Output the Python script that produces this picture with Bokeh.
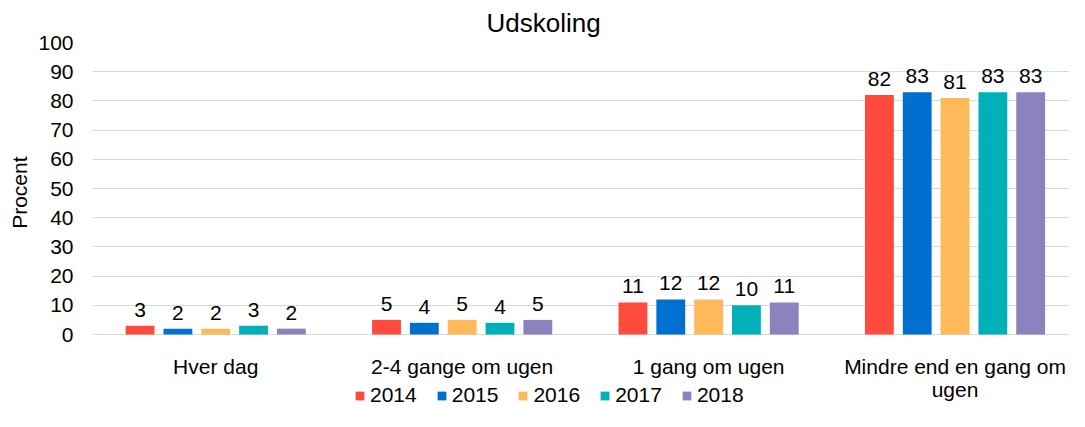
from bokeh.plotting import figure
from bokeh.models import Legend, LegendItem, ColumnDataSource, Range1d, FixedTicker, Title
from bokeh.transform import dodge
from bokeh.core.properties import value
from bokeh.embed import file_html
from bokeh.resources import INLINE

categories = ["Hver dag", "2-4 gange om ugen", "1 gang om ugen", "Mindre end en gang om ugen"]
label_line1 = ["Hver dag", "2-4 gange om ugen", "1 gang om ugen", "Mindre end en gang om"]
label_line2 = ["", "", "", "ugen"]
years = ["2014", "2015", "2016", "2017", "2018"]
v2014 = [3, 5, 11, 82]
v2015 = [2, 4, 12, 83]
v2016 = [2, 5, 12, 81]
v2017 = [3, 4, 10, 83]
v2018 = [2, 5, 11, 83]
colors = ["#FF4B3E", "#0070D0", "#FFB85A", "#00B0B8", "#8A83BE"]
y_ticks = [0, 10, 20, 30, 40, 50, 60, 70, 80, 90, 100]

series = [v2014, v2015, v2016, v2017, v2018]
# category slots: category i is centred at i + 0.5 on the x scale
data = {"xc": [i + 0.5 for i in range(len(categories))], "l1": label_line1, "l2": label_line2,
        "zero": [0] * len(categories)}
for yr, vals in zip(years, series):
    data["y" + yr] = vals
    data["t" + yr] = [str(v) for v in vals]
source = ColumnDataSource(data)

FONT = "Liberation Sans"
FS = "21px"

W = 1069
H = 407
LEFT = 87
TOP = 42
PX_PER_UNIT = 2.92
CAT_PX = 247.7
frame_h = H - TOP
frame_w = W - LEFT
y_start = 100 - frame_h / PX_PER_UNIT
x_end = frame_w / CAT_PX

p = figure(width=W, height=H, x_range=Range1d(0, x_end), y_range=Range1d(y_start, 100),
           output_backend="svg", toolbar_location=None,
           min_border_left=LEFT, min_border_right=0, min_border_top=TOP, min_border_bottom=0)
p.outline_line_color = None
p.background_fill_color = "white"

p.title.text = "Udskoling"
p.title.align = "left"
p.title.offset = 394
p.title.text_font = FONT
p.title.text_font_size = "26px"
p.title.text_font_style = "normal"
p.title.text_color = "#000000"

offsets = [-0.307, -0.1535, 0.0, 0.1535, 0.307]
items = []
for yr, col, off in zip(years, colors, offsets):
    r = p.vbar(x=dodge("xc", off), top="y" + yr, width=0.117, source=source,
               fill_color=col, line_color=None)
    p.text(x=dodge("xc", off), y="y" + yr, text="t" + yr, source=source,
           text_align="center", text_baseline="alphabetic", y_offset=-16,
           text_font=value(FONT), text_font_size=FS, text_color="#000000")
    items.append(LegendItem(label=yr, renderers=[r]))

# category labels under the baseline
p.text(x="xc", y="zero", text="l1", source=source, text_align="center", text_baseline="alphabetic",
       y_offset=32, text_font=value(FONT), text_font_size=FS, text_color="#000000")
p.text(x="xc", y="zero", text="l2", source=source, text_align="center", text_baseline="alphabetic",
       y_offset=55, text_font=value(FONT), text_font_size=FS, text_color="#000000")

legend = Legend(items=items, orientation="horizontal", location=(262, 0),
                label_text_font=FONT, label_text_font_size=FS, label_text_color="#000000",
                glyph_width=11, glyph_height=11, label_standoff=5, spacing=19, label_height=20,
                padding=0, margin=0, border_line_color=None, background_fill_alpha=0)
p.add_layout(legend, "center")

p.xaxis.visible = False

p.yaxis.ticker = FixedTicker(ticks=y_ticks)
p.yaxis.axis_line_color = None
p.yaxis.major_tick_line_color = None
p.yaxis.minor_tick_line_color = None
p.yaxis.major_label_text_font = FONT
p.yaxis.major_label_text_font_size = FS
p.yaxis.major_label_text_color = "#000000"
p.yaxis.major_label_standoff = 13

ylab = Title(text="Procent", align="right", offset=114, text_font=FONT, text_font_size=FS,
             text_font_style="normal", text_color="#000000", standoff=10)
p.add_layout(ylab, "left")

p.xgrid.grid_line_color = None
p.ygrid.grid_line_color = "#D9D9D9"
p.ygrid.grid_line_width = 1

open("out.html", "w").write(file_html(p, INLINE))
